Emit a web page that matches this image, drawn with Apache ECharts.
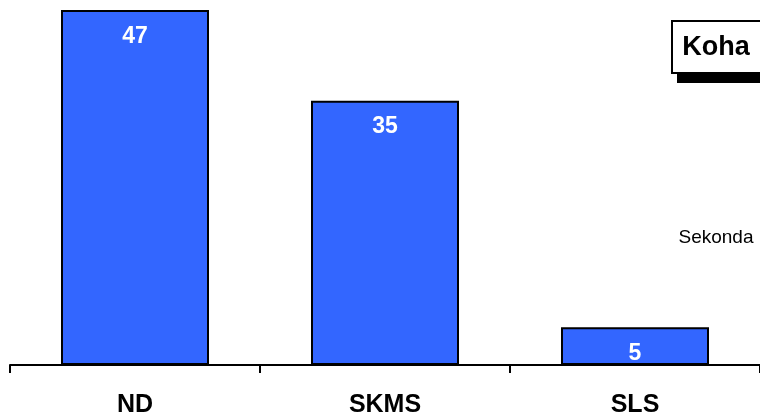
<!DOCTYPE html>
<html><head><meta charset="utf-8">
<script src="https://cdn.jsdelivr.net/npm/echarts@6/dist/echarts.min.js"></script>
<style>html,body{margin:0;padding:0;background:#fff}#c{width:760px;height:418px}</style>
</head><body><div id="c"></div>
<script>
const categories = ['ND', 'SKMS', 'SLS'];
const values = [47, 35, 5];
const titleText = 'Koha';
const unitText = 'Sekonda';

const chart = echarts.init(document.getElementById('c'));
chart.setOption({
  animation: false,
  grid: { left: 10, right: 0, top: 10, bottom: 50 },
  xAxis: {
    type: 'category',
    data: categories,
    axisLine: { lineStyle: { color: '#000', width: 2 } },
    axisTick: { show: true, length: 8, lineStyle: { color: '#000', width: 2 } },
    axisLabel: { color: '#000', fontFamily: 'Liberation Sans', fontWeight: 'bold', fontSize: 25, margin: 28 }
  },
  yAxis: {
    type: 'value', min: 0, max: 47,
    show: false, splitLine: { show: false }
  },
  series: [{
    type: 'bar',
    data: values,
    barWidth: 148,
    itemStyle: { color: '#3366FF', borderColor: '#000', borderWidth: 2 },
    label: {
      show: true, position: 'insideTop', distance: 15,
      color: '#fff', fontFamily: 'Liberation Sans', fontWeight: 'bold', fontSize: 23
    }
  }],
  graphic: [
    { type: 'rect', shape: { x: 677, y: 26, width: 90, height: 57 }, style: { fill: '#000' }, z: 10 },
    { type: 'rect', shape: { x: 672, y: 21, width: 92, height: 52 }, style: { fill: '#fff', stroke: '#000', lineWidth: 2 }, z: 11 },
    { type: 'text', x: 716, y: 48, style: { text: titleText, fill: '#000', font: 'bold 27px "Liberation Sans"', textAlign: 'center', textVerticalAlign: 'middle' }, z: 12 },
    { type: 'text', x: 716, y: 238, style: { text: unitText, fill: '#000', font: '19px "Liberation Sans"', textAlign: 'center', textVerticalAlign: 'middle' }, z: 12 }
  ]
});
</script></body></html>
